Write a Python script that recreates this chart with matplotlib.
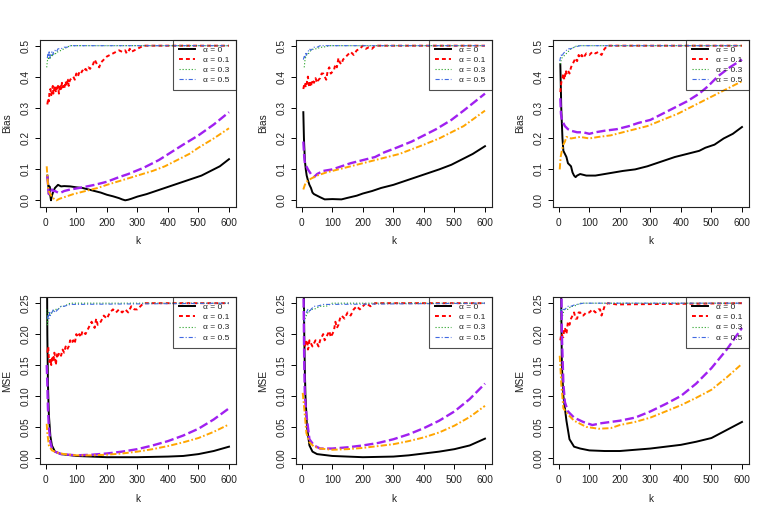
import numpy as np
import matplotlib
matplotlib.use("Agg")
import matplotlib.pyplot as plt

plt.rcParams['font.family'] = ['Liberation Sans', 'DejaVu Sans']
plt.rcParams['lines.scale_dashes'] = False

# ---------------- tick labels ----------------
X_TICKS = [0, 100, 200, 300, 400, 500, 600]
BIAS_TICKS = [0.0, 0.1, 0.2, 0.3, 0.4, 0.5]
BIAS_LABELS = ["0.0", "0.1", "0.2", "0.3", "0.4", "0.5"]
MSE_TICKS = [0.00, 0.05, 0.10, 0.15, 0.20, 0.25]
MSE_LABELS = ["0.00", "0.05", "0.10", "0.15", "0.20", "0.25"]
LEGEND_LABELS = ["α = 0", "α = 0.1", "α = 0.3", "α = 0.5"]

# ---------------- panel 1 (Bias) ----------------
P1_BLACK_K = [5, 8, 10, 12, 14, 17, 20, 25, 30, 40, 50, 60, 80, 100, 120, 140, 160, 180, 200, 220,
              240, 250, 260, 270, 280, 300, 330, 360, 390, 420, 450, 480, 510, 540, 570, 600]
P1_BLACK = [0.08, 0.05, 0.02, 0.045, 0.02, 0.0, 0.015, 0.03, 0.04, 0.05, 0.045, 0.046, 0.045, 0.042,
            0.04, 0.035, 0.03, 0.025, 0.018, 0.013, 0.007, 0.003, 0.0, 0.002, 0.005, 0.012, 0.02, 0.03,
            0.04, 0.05, 0.06, 0.07, 0.08, 0.095, 0.11, 0.133]
P1_RED_K = [5, 8, 10, 12, 15, 18, 20, 23, 25, 28, 30, 33, 35, 38, 40, 43, 45, 48, 50, 53,
            55, 58, 60, 63, 65, 68, 70, 73, 75, 78, 80, 85, 90, 95, 100, 105, 110, 115, 120, 125,
            130, 135, 140, 145, 150, 155, 160, 165, 170, 175, 180, 185, 190, 195, 200, 210, 220, 230, 240, 250,
            260, 265, 270, 275, 280, 290, 300, 310, 320, 600]
P1_RED = [0.31, 0.33, 0.32, 0.35, 0.36, 0.34, 0.355, 0.37, 0.345, 0.36,
          0.37, 0.35, 0.365, 0.355, 0.37, 0.345, 0.36, 0.375, 0.36, 0.38,
          0.365, 0.37, 0.36, 0.375, 0.385, 0.37, 0.38, 0.39, 0.37, 0.385,
          0.39, 0.395, 0.40, 0.39, 0.41, 0.40, 0.415, 0.41, 0.42, 0.415,
          0.425, 0.42, 0.43, 0.425, 0.435, 0.44, 0.455, 0.445, 0.435, 0.43,
          0.445, 0.45, 0.455, 0.46, 0.465, 0.47, 0.475, 0.48, 0.485, 0.48,
          0.485, 0.475, 0.48, 0.49, 0.48, 0.485, 0.49, 0.495, 0.50, 0.50]
P1_GREEN_K = [3, 5, 8, 10, 13, 15, 18, 20, 25, 30, 35, 40, 50, 60, 70, 80, 600]
P1_GREEN = [0.43, 0.45, 0.46, 0.455, 0.465, 0.46, 0.47, 0.465, 0.475, 0.47, 0.48, 0.48, 0.485, 0.49,
            0.495, 0.50, 0.50]
P1_BLUE_K = [5, 7, 9, 11, 13, 15, 18, 20, 23, 25, 30, 35, 40, 50, 60, 70, 80, 100, 600]
P1_BLUE = [0.46, 0.475, 0.465, 0.48, 0.46, 0.47, 0.475, 0.48, 0.47, 0.48, 0.485, 0.48, 0.49, 0.49,
           0.495, 0.495, 0.5, 0.5, 0.5]
P1_PURPLE_K = [5, 8, 10, 13, 16, 20, 25, 30, 40, 50, 60, 80, 110, 160, 200, 240, 270, 320, 370, 410,
               450, 500, 550, 600]
P1_PURPLE = [0.08, 0.04, 0.02, 0.025, 0.02, 0.035, 0.03, 0.03, 0.025, 0.025, 0.03, 0.035, 0.04, 0.05,
             0.06, 0.075, 0.085, 0.105, 0.13, 0.155, 0.18, 0.21, 0.245, 0.285]
P1_ORANGE_K = [3, 5, 8, 10, 15, 20, 30, 35, 45, 60, 90, 130, 170, 200, 250, 300, 350, 390, 430, 470,
               500, 550, 600]
P1_ORANGE = [0.11, 0.08, 0.04, 0.03, 0.02, 0.01, 0.003, 0.0, 0.005, 0.01, 0.02, 0.03, 0.04, 0.05, 0.065,
             0.08, 0.095, 0.11, 0.13, 0.15, 0.17, 0.2, 0.233]

# ---------------- panel 2 (Bias) ----------------
P2_BLACK_K = [5, 7, 10, 13, 16, 20, 25, 30, 35, 40, 50, 60, 75, 100, 130, 150, 180, 200, 230, 260,
              300, 330, 360, 390, 420, 450, 490, 520, 560, 600]
P2_BLACK = [0.285, 0.2, 0.13, 0.1, 0.08, 0.065, 0.05, 0.04, 0.025, 0.02, 0.015, 0.01, 0.003, 0.004,
            0.003, 0.008, 0.015, 0.022, 0.03, 0.04, 0.05, 0.06, 0.07, 0.08, 0.09, 0.1, 0.115, 0.13,
            0.15, 0.175]
P2_RED_K = [5, 8, 10, 13, 15, 18, 20, 23, 25, 28, 30, 35, 40, 45, 50, 55, 60, 65, 70, 75,
            80, 85, 90, 95, 100, 105, 110, 115, 120, 125, 130, 135, 140, 150, 160, 170, 180, 190, 200, 210,
            220, 230, 240, 600]
P2_RED = [0.36, 0.375, 0.38, 0.365, 0.37, 0.39, 0.40, 0.375, 0.365, 0.38,
          0.37, 0.39, 0.38, 0.395, 0.38, 0.39, 0.395, 0.41, 0.41, 0.40,
          0.39, 0.42, 0.43, 0.41, 0.415, 0.42, 0.44, 0.43, 0.46, 0.445,
          0.44, 0.455, 0.46, 0.47, 0.48, 0.47, 0.485, 0.49, 0.50, 0.49,
          0.495, 0.49, 0.50, 0.50]
P2_GREEN_K = [8, 10, 12, 15, 20, 25, 30, 40, 50, 60, 70, 90, 600]
P2_GREEN = [0.43, 0.45, 0.46, 0.47, 0.47, 0.48, 0.485, 0.49, 0.49, 0.495, 0.495, 0.5, 0.5]
P2_BLUE_K = [5, 8, 10, 13, 15, 20, 25, 30, 40, 50, 60, 600]
P2_BLUE = [0.455, 0.465, 0.46, 0.475, 0.47, 0.48, 0.49, 0.485, 0.495, 0.495, 0.5, 0.5]
P2_PURPLE_K = [5, 8, 10, 15, 20, 30, 40, 50, 70, 100, 130, 160, 200, 240, 270, 310, 360, 400, 440, 490,
               530, 600]
P2_PURPLE = [0.19, 0.14, 0.12, 0.11, 0.1, 0.085, 0.075, 0.085, 0.095, 0.1, 0.11, 0.12, 0.13, 0.14,
             0.155, 0.17, 0.19, 0.21, 0.23, 0.26, 0.29, 0.345]
P2_ORANGE_K = [5, 10, 15, 30, 50, 80, 120, 160, 200, 240, 280, 320, 360, 400, 450, 490, 530, 600]
P2_ORANGE = [0.035, 0.05, 0.06, 0.07, 0.08, 0.09, 0.1, 0.11, 0.12, 0.13, 0.14, 0.15, 0.165, 0.18,
             0.2, 0.22, 0.24, 0.29]

# ---------------- panel 3 (Bias) ----------------
P3_BLACK_K = [5, 7, 8, 10, 12, 15, 20, 25, 30, 35, 40, 45, 50, 55, 60, 70, 90, 120, 150, 180,
              210, 250, 290, 320, 350, 380, 420, 460, 480, 510, 540, 570, 600]
P3_BLACK = [0.44, 0.35, 0.3, 0.25, 0.2, 0.16, 0.15, 0.14, 0.12, 0.115,
            0.11, 0.09, 0.08, 0.075, 0.08, 0.085, 0.08, 0.08, 0.085, 0.09,
            0.095, 0.1, 0.11, 0.12, 0.13, 0.14, 0.15, 0.16, 0.17, 0.18,
            0.2, 0.215, 0.237]
P3_RED_K = [5, 8, 10, 13, 15, 18, 20, 23, 25, 30, 35, 40, 45, 50, 55, 60, 65, 70, 75, 80,
            90, 100, 110, 120, 130, 140, 150, 160, 600]
P3_RED = [0.35, 0.38, 0.39, 0.40, 0.41, 0.39, 0.40, 0.42, 0.41, 0.42,
          0.41, 0.43, 0.44, 0.45, 0.46, 0.45, 0.47, 0.46, 0.47, 0.46,
          0.475, 0.47, 0.48, 0.475, 0.48, 0.47, 0.49, 0.50, 0.50]
P3_GREEN_K = [5, 8, 10, 15, 20, 30, 40, 50, 60, 600]
P3_GREEN = [0.44, 0.455, 0.46, 0.465, 0.47, 0.48, 0.49, 0.495, 0.5, 0.5]
P3_BLUE_K = [3, 5, 8, 10, 15, 20, 30, 40, 50, 70, 600]
P3_BLUE = [0.45, 0.46, 0.47, 0.465, 0.475, 0.48, 0.49, 0.49, 0.495, 0.5, 0.5]
P3_PURPLE_K = [5, 7, 10, 15, 20, 30, 40, 60, 80, 100, 120, 150, 190, 230, 260, 300, 340, 380, 420, 460,
               490, 520, 560, 600]
P3_PURPLE = [0.33, 0.28, 0.26, 0.25, 0.24, 0.23, 0.225, 0.22, 0.22, 0.215, 0.22, 0.225, 0.23, 0.24,
             0.25, 0.26, 0.28, 0.3, 0.32, 0.345, 0.37, 0.4, 0.43, 0.455]
P3_ORANGE_K = [3, 6, 10, 15, 20, 25, 40, 70, 100, 130, 170, 210, 250, 290, 340, 390, 430, 470, 510, 550,
               600]
P3_ORANGE = [0.1, 0.14, 0.16, 0.18, 0.19, 0.205, 0.2, 0.205, 0.2, 0.205, 0.21, 0.22, 0.23, 0.24, 0.26,
             0.28, 0.3, 0.32, 0.34, 0.36, 0.385]

# ---------------- panel 4 (MSE) ----------------
P4_BLACK_K = [3, 5, 7, 10, 15, 20, 30, 50, 100, 150, 200, 300, 400, 450, 500, 550, 600]
P4_BLACK = [0.4, 0.2, 0.12, 0.07, 0.035, 0.02, 0.01, 0.006, 0.003, 0.002, 0.001, 0.001, 0.002, 0.003,
            0.006, 0.011, 0.018]
P4_RED_K = [5, 8, 10, 12, 15, 18, 20, 23, 25, 28, 30, 33, 35, 38, 40, 45, 50, 55, 60, 65,
            70, 75, 80, 85, 90, 95, 100, 105, 110, 115, 120, 130, 140, 150, 155, 160, 165, 170, 180, 190,
            200, 210, 220, 230, 240, 250, 260, 270, 280, 290, 300, 310, 320, 330, 600]
P4_RED = [0.17, 0.18, 0.16, 0.155, 0.16, 0.15, 0.16, 0.165, 0.155, 0.17,
          0.165, 0.15, 0.16, 0.17, 0.165, 0.17, 0.165, 0.175, 0.17, 0.18,
          0.175, 0.18, 0.19, 0.185, 0.19, 0.185, 0.2, 0.195, 0.2, 0.195,
          0.205, 0.2, 0.21, 0.22, 0.215, 0.21, 0.225, 0.215, 0.22, 0.23,
          0.225, 0.235, 0.24, 0.235, 0.24, 0.235, 0.24, 0.235, 0.245, 0.24,
          0.24, 0.245, 0.25, 0.25, 0.25]
P4_GREEN_K = [3, 5, 8, 10, 15, 20, 30, 40, 50, 60, 80, 600]
P4_GREEN = [0.24, 0.215, 0.23, 0.235, 0.23, 0.235, 0.24, 0.24, 0.245, 0.245, 0.25, 0.25]
P4_BLUE_K = [5, 8, 10, 13, 15, 20, 25, 30, 40, 50, 60, 80, 600]
P4_BLUE = [0.225, 0.23, 0.225, 0.235, 0.23, 0.235, 0.24, 0.235, 0.24, 0.245, 0.245, 0.248, 0.25]
P4_PURPLE_K = [3, 5, 7, 10, 15, 20, 30, 50, 100, 150, 200, 250, 300, 350, 400, 450, 500, 550, 600]
P4_PURPLE = [0.15, 0.12, 0.08, 0.05, 0.025, 0.015, 0.01, 0.006, 0.004, 0.005, 0.007, 0.01, 0.014, 0.02,
             0.027, 0.036, 0.047, 0.062, 0.08]
P4_ORANGE_K = [3, 5, 10, 20, 40, 60, 100, 150, 200, 250, 300, 350, 400, 450, 500, 550, 600]
P4_ORANGE = [0.055, 0.04, 0.02, 0.012, 0.008, 0.006, 0.004, 0.004, 0.005, 0.007, 0.01, 0.014, 0.019,
             0.025, 0.032, 0.042, 0.054]

# ---------------- panel 5 (MSE) ----------------
P5_BLACK_K = [3, 5, 8, 10, 12, 17, 25, 35, 50, 100, 150, 200, 300, 350, 400, 450, 500, 550, 600]
P5_BLACK = [0.5, 0.35, 0.2, 0.14, 0.1, 0.05, 0.02, 0.01, 0.006, 0.003, 0.002, 0.001, 0.002, 0.004,
            0.007, 0.01, 0.014, 0.02, 0.031]
P5_RED_K = [10, 13, 15, 18, 20, 23, 25, 30, 35, 40, 45, 50, 55, 60, 65, 70, 75, 80, 85, 90,
            95, 100, 105, 110, 115, 120, 125, 130, 140, 150, 160, 170, 180, 190, 200, 210, 225, 240, 600]
P5_RED = [0.18, 0.19, 0.185, 0.19, 0.175, 0.18, 0.19, 0.185, 0.18, 0.185,
          0.19, 0.185, 0.18, 0.19, 0.195, 0.2, 0.19, 0.195, 0.2, 0.205,
          0.195, 0.2, 0.205, 0.22, 0.21, 0.215, 0.225, 0.23, 0.225, 0.235,
          0.23, 0.24, 0.245, 0.24, 0.245, 0.25, 0.245, 0.25, 0.25]
P5_GREEN_K = [5, 8, 10, 15, 20, 30, 40, 60, 80, 100, 600]
P5_GREEN = [0.245, 0.23, 0.225, 0.23, 0.235, 0.24, 0.24, 0.245, 0.245, 0.25, 0.25]
P5_BLUE_K = [8, 10, 15, 20, 25, 30, 40, 50, 70, 90, 600]
P5_BLUE = [0.22, 0.23, 0.235, 0.24, 0.235, 0.24, 0.245, 0.245, 0.248, 0.248, 0.25]
P5_PURPLE_K = [3, 5, 8, 10, 15, 25, 40, 60, 100, 150, 200, 250, 300, 350, 400, 450, 500, 550, 600]
P5_PURPLE = [0.5, 0.3, 0.15, 0.1, 0.07, 0.03, 0.02, 0.015, 0.015, 0.017, 0.02, 0.024, 0.03, 0.038,
             0.048, 0.06, 0.075, 0.095, 0.12]
P5_ORANGE_K = [3, 5, 8, 15, 25, 40, 60, 100, 150, 200, 250, 300, 350, 400, 450, 500, 550, 600]
P5_ORANGE = [0.105, 0.095, 0.08, 0.04, 0.025, 0.018, 0.015, 0.013, 0.014, 0.016, 0.019, 0.022, 0.027,
             0.033, 0.041, 0.052, 0.066, 0.084]

# ---------------- panel 6 (MSE) ----------------
P6_BLACK_K = [5, 8, 10, 15, 20, 25, 35, 50, 70, 100, 150, 200, 250, 300, 350, 400, 450, 500, 550, 600]
P6_BLACK = [0.5, 0.25, 0.15, 0.1, 0.08, 0.06, 0.03, 0.018, 0.015, 0.012, 0.011, 0.011, 0.013, 0.015,
            0.018, 0.021, 0.026, 0.032, 0.045, 0.058]
P6_RED_K = [5, 8, 10, 13, 15, 18, 20, 25, 30, 35, 40, 45, 50, 55, 60, 65, 70, 75, 80, 90,
            100, 110, 120, 130, 135, 140, 150, 160, 190, 600]
P6_RED = [0.19, 0.2, 0.2, 0.195, 0.195, 0.21, 0.21, 0.2, 0.22, 0.215,
          0.225, 0.23, 0.235, 0.225, 0.225, 0.235, 0.235, 0.23, 0.23, 0.235,
          0.235, 0.24, 0.235, 0.24, 0.24, 0.23, 0.245, 0.25, 0.248, 0.25]
P6_GREEN_K = [5, 8, 10, 15, 20, 30, 40, 50, 70, 600]
P6_GREEN = [0.22, 0.23, 0.225, 0.235, 0.24, 0.24, 0.245, 0.245, 0.25, 0.25]
P6_BLUE_K = [5, 8, 10, 15, 20, 30, 40, 50, 80, 600]
P6_BLUE = [0.235, 0.24, 0.235, 0.24, 0.24, 0.245, 0.245, 0.247, 0.25, 0.25]
P6_PURPLE_K = [5, 8, 10, 15, 20, 30, 50, 80, 110, 140, 200, 250, 300, 350, 400, 450, 500, 550, 600]
P6_PURPLE = [0.5, 0.3, 0.2, 0.12, 0.09, 0.075, 0.065, 0.058, 0.053, 0.056, 0.06, 0.065, 0.075, 0.087,
             0.1, 0.12, 0.145, 0.175, 0.21]
P6_ORANGE_K = [3, 5, 8, 15, 30, 50, 90, 130, 170, 200, 250, 300, 350, 400, 450, 500, 550, 600]
P6_ORANGE = [0.165, 0.15, 0.12, 0.08, 0.07, 0.06, 0.05, 0.047, 0.048, 0.053, 0.058, 0.065, 0.075, 0.085,
             0.097, 0.11, 0.13, 0.152]

# ---------------- styles ----------------
STYLE = {
    'black':  dict(color='black', lw=1.4, ls='-'),
    'red':    dict(color='#FF0000', lw=1.4, ls=(0, (2.8, 2.2))),
    'green':  dict(color='#22A022', lw=0.8, ls=(0, (0.8, 1.4))),
    'blue':   dict(color='#4169E1', lw=0.8, ls=(0, (3.0, 1.4, 0.8, 1.4))),
    'purple': dict(color='#A020F0', lw=1.7, ls=(0, (6.5, 2.5))),
    'orange': dict(color='#FFA500', lw=1.4, ls=(0, (4.5, 1.6, 1.2, 1.6))),
}

panels = [
    ('Bias', [(P1_BLACK_K, P1_BLACK), (P1_RED_K, P1_RED), (P1_GREEN_K, P1_GREEN), (P1_BLUE_K, P1_BLUE),
              (P1_PURPLE_K, P1_PURPLE), (P1_ORANGE_K, P1_ORANGE)]),
    ('Bias', [(P2_BLACK_K, P2_BLACK), (P2_RED_K, P2_RED), (P2_GREEN_K, P2_GREEN), (P2_BLUE_K, P2_BLUE),
              (P2_PURPLE_K, P2_PURPLE), (P2_ORANGE_K, P2_ORANGE)]),
    ('Bias', [(P3_BLACK_K, P3_BLACK), (P3_RED_K, P3_RED), (P3_GREEN_K, P3_GREEN), (P3_BLUE_K, P3_BLUE),
              (P3_PURPLE_K, P3_PURPLE), (P3_ORANGE_K, P3_ORANGE)]),
    ('MSE', [(P4_BLACK_K, P4_BLACK), (P4_RED_K, P4_RED), (P4_GREEN_K, P4_GREEN), (P4_BLUE_K, P4_BLUE),
             (P4_PURPLE_K, P4_PURPLE), (P4_ORANGE_K, P4_ORANGE)]),
    ('MSE', [(P5_BLACK_K, P5_BLACK), (P5_RED_K, P5_RED), (P5_GREEN_K, P5_GREEN), (P5_BLUE_K, P5_BLUE),
             (P5_PURPLE_K, P5_PURPLE), (P5_ORANGE_K, P5_ORANGE)]),
    ('MSE', [(P6_BLACK_K, P6_BLACK), (P6_RED_K, P6_RED), (P6_GREEN_K, P6_GREEN), (P6_BLUE_K, P6_BLUE),
             (P6_PURPLE_K, P6_PURPLE), (P6_ORANGE_K, P6_ORANGE)]),
]
order = ['black', 'red', 'green', 'blue', 'purple', 'orange']

W, H = 770, 514
fig = plt.figure(figsize=(W / 100, H / 100), dpi=100)
fig.patch.set_facecolor('white')

col_left = [40, 296, 553]
pw = 196
row_top = [39.5, 297]
ph = 167

FS = 7.3
for i, (ylab, series) in enumerate(panels):
    r, c = divmod(i, 3)
    left = col_left[c] / W
    bottom = 1 - (row_top[r] + ph) / H
    ax = fig.add_axes([left, bottom, pw / W, ph / H])
    handles = []
    for name, (kk, vv) in zip(order, series):
        st = STYLE[name]
        ln, = ax.plot(kk, vv, color=st['color'], lw=st['lw'], ls=st['ls'],
                      solid_joinstyle='round', dash_joinstyle='round')
        handles.append(ln)
    ax.set_xlim(-19, 623)
    ax.set_xticks(X_TICKS)
    ax.set_xticklabels([str(t) for t in X_TICKS])
    if ylab == 'Bias':
        ax.set_ylim(-0.02, 0.52)
        ax.set_yticks(BIAS_TICKS)
        ax.set_yticklabels(BIAS_LABELS)
    else:
        ax.set_ylim(-0.01, 0.26)
        ax.set_yticks(MSE_TICKS)
        ax.set_yticklabels(MSE_LABELS)
    ax.tick_params(axis='both', direction='out', length=3.6, width=0.7, labelsize=FS,
                   colors='black', labelcolor='#222222')
    ax.tick_params(axis='x', pad=4.5)
    ax.tick_params(axis='y', pad=3.5)
    for lab in ax.get_yticklabels():
        lab.set_rotation(90)
        lab.set_va('center')
    for sp in ax.spines.values():
        sp.set_linewidth(0.8)
        sp.set_color('#222222')
    ax.text(0.5, -34.5 / ph, 'k', transform=ax.transAxes, ha='center', va='center',
            fontsize=FS, color='#222222')
    ax.text(-33 / pw, 0.5, ylab, transform=ax.transAxes, ha='center', va='center',
            rotation=90, fontsize=FS, color='#222222')
    leg = ax.legend(handles[:4], LEGEND_LABELS, loc='upper right', borderaxespad=0,
                    fontsize=6, handlelength=1.95, handletextpad=0.95, borderpad=0.75,
                    labelspacing=0.28, fancybox=False, frameon=True)
    fr = leg.get_frame()
    fr.set_facecolor('none')
    fr.set_edgecolor('#222222')
    fr.set_linewidth(0.8)
    for t in leg.get_texts():
        t.set_color('#222222')

fig.savefig('out.png', dpi=100, facecolor='white')
